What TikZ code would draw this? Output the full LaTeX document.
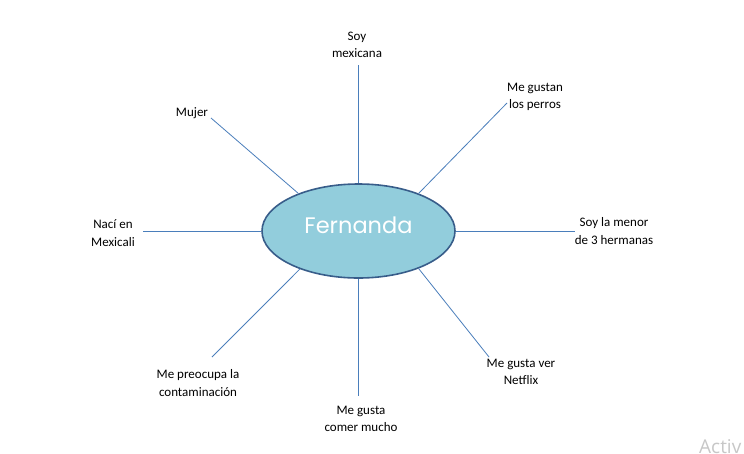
\documentclass[tikz,border=0pt]{standalone}
\usepackage{fontspec}
\setmainfont{Carlito}
\newfontfamily\fernfont{Poppins}
\newfontfamily\winfont{Open Sans}
\usetikzlibrary{shapes.geometric}

\definecolor{fillblue}{RGB}{146,205,220}
\definecolor{edgeblue}{RGB}{56,93,138}
\definecolor{lineblue}{RGB}{74,126,187}

\tikzset{
  rama/.style={draw=lineblue, line width=0.8pt},
  etiqueta/.style={align=center, inner sep=0pt, font=\fontsize{13}{17.5}\selectfont}
}

\begin{document}
\begin{tikzpicture}[x=1pt,y=-1pt]
\useasboundingbox[fill=white] (0,0) rectangle (744,453);

\node[ellipse, draw=edgeblue, line width=1.6pt, fill=fillblue, minimum width=193pt, minimum height=94pt, inner sep=0pt] (fer) at (358.5,231) {};
\node[text=white, font=\fernfont\fontsize{22.5}{26}\selectfont] (nombre) at (358.5,225) {Fernanda};

\node[etiqueta] (soy) at (357,45) {Soy\\mexicana};
\node[etiqueta] (perros) at (535,97) {Me gustan\\los perros};
\node[etiqueta] (menor) at (614,231) {Soy la menor\\de 3 hermanas};
\node[etiqueta] (netflix) at (521,372) {Me gusta ver\\Netflix};
\node[etiqueta] (comer) at (361,419) {Me gusta\\comer mucho};
\node[etiqueta] (conta) at (198,383) {Me preocupa la\\contaminación};
\node[etiqueta] (naci) at (113,233) {Nací en\\Mexicali};
\node[etiqueta] (mujer) at (192,113) {Mujer};

\coordinate (e1) at (358.5,65);
\coordinate (e2) at (507,103);
\coordinate (e3) at (575,231);
\coordinate (e4) at (489,357);
\coordinate (e5) at (358.5,396);
\coordinate (e6) at (212,357);
\coordinate (e7) at (143,231);
\coordinate (e8) at (211,118);

\draw[rama] (fer.90) -- (e1);
\draw[rama] (fer.32) -- (e2);
\draw[rama] (fer.0) -- (e3);
\draw[rama] (fer.-32) -- (e4);
\draw[rama] (fer.270) -- (e5);
\draw[rama] (fer.213) -- (e6);
\draw[rama] (fer.180) -- (e7);
\draw[rama] (fer.148) -- (e8);

\node[anchor=base west, inner sep=0pt, text=black!22, font=\winfont\fontsize{19}{23}\selectfont] (activ) at (699,453) {Activ};

\end{tikzpicture}
\end{document}
